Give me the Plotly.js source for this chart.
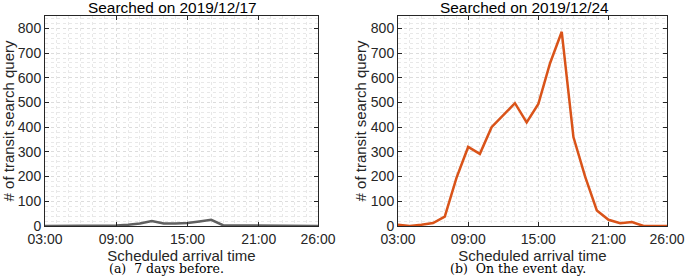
<!DOCTYPE html>
<html>
<head>
<meta charset="utf-8">
<script src="https://cdn.plot.ly/plotly-3.0.1.min.js"></script>
<style>html,body{margin:0;padding:0;background:#fff;}#chart{width:685px;height:276px;}</style>
</head>
<body>
<div id="chart"></div>
<script>
// Scheduled arrival hour (3:00 .. 26:00)
const hours = [3,4,5,6,7,8,9,10,11,12,13,14,15,16,17,18,19,20,21,22,23,24,25,26];
// Searched on 2019/12/17 (7 days before)
const before = [0,0,0,0,0,1,2,5,10,20,10,10,12,18,25,3,3,0,0,0,0,0,0,0];
// Searched on 2019/12/24 (event day)
const eventDay = [5,0,5,12,38,195,320,292,400,450,497,419,494,659,786,360,200,63,25,11,16,0,0,0];
const tickVals = [3,9,15,21,26];
const tickText = ['03:00','09:00','15:00','21:00','26:00'];
const yTicks = [0,100,200,300,400,500,600,700,800];
const titles = ['Searched on 2019/12/17','Searched on 2019/12/24'];
const captions = ['(a)  7 days before.','(b)  On the event day.'];
const xTitle = 'Scheduled arrival time';
const yTitle = '# of transit search query';

const tickFont = {family:'Liberation Sans, Arial, sans-serif', size:14, color:'#262626'};
const titleFont = {family:'Liberation Sans, Arial, sans-serif', size:15, color:'#262626'};
function xax(domain, anchor){
  return {domain:domain, anchor:anchor, range:[3,26], tickvals:tickVals, ticktext:tickText,
    ticks:'inside', ticklen:4, tickcolor:'#262626', showline:true, mirror:'ticks', linecolor:'#262626', linewidth:1,
    showgrid:true, gridcolor:'#dcdcdc', griddash:'dot', gridwidth:1, zeroline:false,
    minor:{dtick:1, tick0:3, showgrid:true, gridcolor:'#e8e8e8', griddash:'dot', gridwidth:1},
    ticklabeloverflow:'allow', automargin:false,
    tickfont:tickFont, title:{text:xTitle, font:titleFont, standoff:2}, fixedrange:true};
}
function yax(domain, anchor){
  return {domain:domain, anchor:anchor, range:[0,850], tickvals:yTicks,
    ticks:'inside', ticklen:4, tickcolor:'#262626', showline:true, mirror:'ticks', linecolor:'#262626', linewidth:1,
    showgrid:true, gridcolor:'#dcdcdc', griddash:'dot', gridwidth:1, zeroline:false,
    minor:{dtick:20, showgrid:true, gridcolor:'#e8e8e8', griddash:'dot', gridwidth:1},
    ticklabeloverflow:'allow', automargin:false,
    tickfont:tickFont, title:{text:yTitle, font:titleFont, standoff:0}, fixedrange:true};
}
const yd = [1-226/276, 1-16/276];
const data = [
  {x:hours, y:before, type:'scatter', mode:'lines', line:{color:'#606060', width:2.5}, xaxis:'x', yaxis:'y', hoverinfo:'skip'},
  {x:hours, y:eventDay, type:'scatter', mode:'lines', line:{color:'#d95319', width:2.5}, xaxis:'x2', yaxis:'y2', hoverinfo:'skip'}
];
const headFont = {family:'Liberation Sans, Arial, sans-serif', size:15.4, color:'#000'};
const capFont = {family:'DejaVu Serif, Liberation Serif, serif', size:12.5, color:'#000'};
const layout = {
  width:685, height:276, margin:{l:0,r:0,t:0,b:0}, paper_bgcolor:'#fff', plot_bgcolor:'#fff',
  showlegend:false,
  xaxis: xax([45/685, 318/685], 'y'),
  yaxis: yax(yd, 'x'),
  xaxis2: xax([398/685, 667/685], 'y2'),
  yaxis2: yax(yd, 'x2'),
  annotations:[
    {text:titles[0], x:172, y:276-7.5, font:headFont},
    {text:titles[1], x:524, y:276-7.5, font:headFont},
    {text:captions[0], x:166, y:276-268.5, font:capFont},
    {text:captions[1], x:518, y:276-268.5, font:capFont}
  ].map(a=>({...a, x:a.x/685, y:a.y/276, xref:'paper', yref:'paper', showarrow:false, xanchor:'center', yanchor:'middle'}))
};
Plotly.newPlot('chart', data, layout, {staticPlot:true, displayModeBar:false});
</script>
</body>
</html>
